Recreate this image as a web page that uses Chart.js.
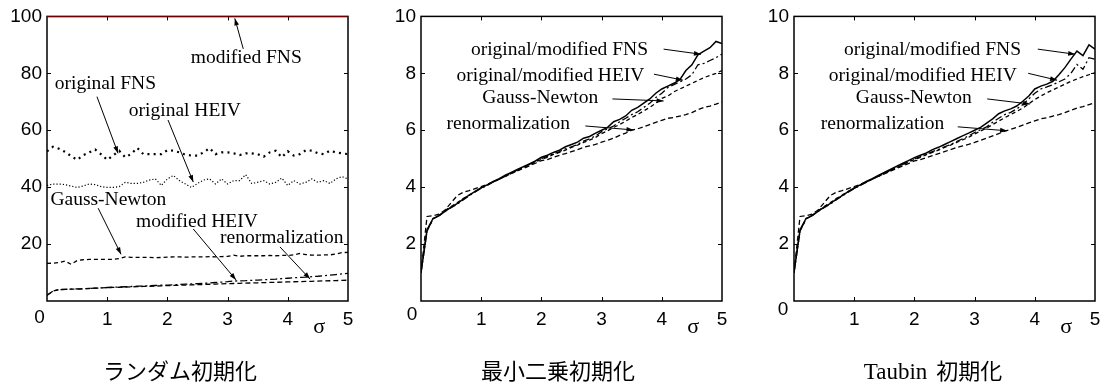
<!DOCTYPE html>
<html><head><meta charset="utf-8">
<script src="https://cdn.jsdelivr.net/npm/chart.js@4.4.0/dist/chart.umd.min.js"></script>
<style>
html,body{margin:0;padding:0;background:#fff;}
#wrap{position:relative;width:1106px;height:389px;overflow:hidden;background:#fff;}
canvas{position:absolute;top:0;}
</style></head><body>
<div id="wrap">
<canvas id="c1" width="370" height="389" style="left:0px"></canvas>
<canvas id="c2" width="370" height="389" style="left:374px"></canvas>
<canvas id="c3" width="370" height="389" style="left:747px"></canvas>
</div>
<script>
// ---------- data ----------
const sigma = [0,0.1,0.2,0.3,0.4,0.5,0.6,0.7,0.8,0.9,1.0,1.1,1.2,1.3,1.4,1.5,1.6,1.7,1.8,1.9,2.0,2.1,2.2,2.3,2.4,2.5,2.6,2.7,2.8,2.9,3.0,3.1,3.2,3.3,3.4,3.5,3.6,3.7,3.8,3.9,4.0,4.1,4.2,4.3,4.4,4.5,4.6,4.7,4.8,4.9,5.0];

// Panel 1 : random initialization
const p1_modFNS = [100,100,100,100,100,100,100,100,100,100,100,100,100,100,100,100,100,100,100,100,100,100,100,100,100,100,100,100,100,100,100,100,100,100,100,100,100,100,100,100,100,100,100,100,100,100,100,100,100,100,100];
const p1_origFNS = [52.6,54.2,53.5,52.4,50.9,49.6,51.2,52.2,53.2,51.5,49.6,51.2,52.8,50.5,51.7,53.8,51.6,51.6,51.6,51.6,53.0,52.8,52.2,51.4,51.1,51.1,52.2,53.7,51.6,52.2,52.2,51.9,51.3,51.9,51.9,51.6,50.7,52.2,52.8,50.5,52.6,51.1,51.6,53.0,52.8,51.9,51.6,52.8,52.2,51.9,51.6];
const p1_origHEIV = [40.6,41.1,41.1,40.9,40.4,39.9,40.4,41.1,40.9,40.2,39.9,39.9,40.2,41.7,41.3,41.3,41.7,42.5,42.9,40.6,42.9,44.1,42.3,41.1,39.9,41.3,42.5,42.9,41.1,42.9,41.1,42.3,42.3,44.4,41.3,41.7,42.3,41.1,41.7,43.2,40.6,42.3,41.1,41.7,42.9,41.7,42.3,41.3,42.9,43.7,42.9];
const p1_GN = [13.2,13.3,13.5,14.0,12.9,14.2,14.5,14.6,14.6,14.6,14.6,14.6,14.9,15.5,15.3,15.3,15.3,15.3,15.2,15.3,15.4,15.5,15.5,15.4,15.5,15.5,15.5,15.6,15.5,15.6,15.7,16.1,15.7,15.9,15.9,15.9,15.9,16.0,15.9,16.0,16.0,16.2,16.7,16.3,16.1,16.1,16.2,16.2,16.5,17.0,17.1];
const p1_modHEIV = [2.0,3.5,4.0,4.1,4.15,4.25,4.3,4.4,4.5,4.6,4.75,4.85,4.9,5.0,5.1,5.2,5.25,5.35,5.45,5.55,5.6,5.7,5.8,5.9,6.0,6.1,6.2,6.35,6.5,6.65,6.8,7.0,7.1,7.15,7.25,7.35,7.45,7.6,7.7,7.85,8.0,8.15,8.3,8.4,8.55,8.7,8.9,9.1,9.3,9.5,9.7];
const p1_renorm = [2.0,3.5,4.0,4.1,4.15,4.2,4.3,4.4,4.5,4.6,4.7,4.77,4.84,4.9,4.98,5.05,5.12,5.18,5.25,5.32,5.4,5.47,5.53,5.6,5.67,5.74,5.8,5.88,5.95,6.02,6.1,6.15,6.22,6.28,6.33,6.4,6.45,6.52,6.58,6.63,6.7,6.76,6.82,6.88,6.93,7.0,7.05,7.12,7.18,7.24,7.3];

// Panel 2 : least-squares initialization
const p2_FNS = [1.0,2.5,2.9,3.0,3.15,3.3,3.42,3.58,3.72,3.85,3.98,4.08,4.2,4.3,4.42,4.52,4.62,4.72,4.82,4.92,5.05,5.12,5.22,5.3,5.42,5.5,5.58,5.72,5.78,5.9,6.0,6.1,6.3,6.38,6.5,6.7,6.8,6.95,7.1,7.3,7.45,7.55,7.65,7.78,8.1,8.3,8.65,8.78,8.9,9.12,9.05];
const p2_HEIV = [1.0,2.45,2.9,3.0,3.15,3.28,3.4,3.55,3.7,3.83,3.96,4.06,4.18,4.28,4.4,4.5,4.6,4.7,4.8,4.9,5.0,5.08,5.17,5.25,5.35,5.42,5.5,5.62,5.7,5.8,5.95,6.05,6.15,6.3,6.42,6.55,6.65,6.8,6.95,7.15,7.3,7.5,7.6,7.7,7.8,7.95,8.3,8.35,8.45,8.55,8.68];
const p2_GN = [1.0,2.45,2.88,3.0,3.18,3.32,3.45,3.6,3.72,3.85,3.97,4.08,4.18,4.28,4.38,4.48,4.58,4.68,4.78,4.88,4.98,5.05,5.15,5.22,5.3,5.4,5.48,5.57,5.65,5.75,5.88,5.98,6.1,6.2,6.32,6.45,6.55,6.68,6.8,6.95,7.12,7.2,7.35,7.45,7.55,7.65,7.75,7.85,7.92,8.0,8.1];
const p2_renorm = [1.0,2.97,3.0,3.05,3.2,3.45,3.7,3.82,3.88,3.95,4.02,4.1,4.18,4.28,4.38,4.48,4.57,4.66,4.75,4.84,4.93,4.97,5.05,5.12,5.18,5.25,5.32,5.4,5.45,5.5,5.58,5.65,5.72,5.82,5.9,6.0,6.05,6.12,6.2,6.28,6.35,6.42,6.45,6.5,6.55,6.62,6.72,6.8,6.85,6.92,7.0];

// Panel 3 : Taubin initialization
const p3_FNS = [1.0,2.5,2.9,3.0,3.15,3.3,3.42,3.57,3.7,3.84,3.97,4.08,4.2,4.3,4.41,4.52,4.62,4.73,4.83,4.93,5.04,5.12,5.2,5.32,5.4,5.5,5.6,5.7,5.8,5.9,6.0,6.1,6.25,6.4,6.58,6.68,6.75,6.85,7.02,7.2,7.45,7.55,7.62,7.72,7.95,8.2,8.5,8.78,8.62,9.0,8.85];
const p3_HEIV = [1.0,2.45,2.9,3.0,3.15,3.28,3.4,3.55,3.69,3.82,3.95,4.06,4.17,4.28,4.39,4.49,4.59,4.69,4.79,4.89,4.99,5.07,5.15,5.25,5.33,5.42,5.5,5.6,5.7,5.8,5.92,6.02,6.12,6.28,6.42,6.55,6.63,6.75,6.9,7.1,7.3,7.45,7.52,7.6,7.7,7.8,8.0,8.31,8.14,8.55,8.49];
const p3_GN = [1.0,2.45,2.88,3.0,3.17,3.32,3.45,3.6,3.72,3.85,3.96,4.07,4.18,4.28,4.38,4.48,4.58,4.68,4.78,4.88,4.97,5.05,5.14,5.22,5.3,5.4,5.48,5.57,5.66,5.75,5.87,5.97,6.08,6.2,6.32,6.44,6.55,6.66,6.78,6.93,7.08,7.2,7.32,7.42,7.52,7.62,7.72,7.8,7.88,7.95,8.02];
const p3_renorm = [1.0,2.97,3.0,3.05,3.2,3.45,3.7,3.82,3.88,3.95,4.02,4.1,4.18,4.28,4.38,4.47,4.56,4.65,4.74,4.83,4.92,4.97,5.04,5.11,5.18,5.25,5.32,5.39,5.45,5.5,5.57,5.65,5.72,5.8,5.88,5.97,6.03,6.1,6.18,6.26,6.33,6.4,6.44,6.5,6.55,6.62,6.7,6.78,6.83,6.9,6.97];

// tick settings
const p1_yTicks = {max: 100, step: 20};
const p23_yTicks = {max: 10, step: 2};
const xTicks = {max: 5, step: 1};

// annotation labels (text anchor and arrow in data units)
const p1_notes = [
  {text:'modified FNS',   t:[3.31,83.7], a:[3.26,88.6], b:[3.12,99.3]},
  {text:'original FNS',   t:[0.97,74.4], a:[0.83,71.8], b:[1.18,51.9]},
  {text:'original HEIV',  t:[2.29,65.0], a:[2.01,63.6], b:[2.43,41.8]},
  {text:'Gauss-Newton',   t:[1.02,33.9], a:[0.85,32.6], b:[1.23,16.4]},
  {text:'modified HEIV',  t:[2.49,26.0], a:[2.43,25.3], b:[3.14,7.4]},
  {text:'renormalization',t:[3.90,20.4], a:[3.87,19.0], b:[4.37,7.7]}
];
const p2_notes = [
  {text:'original/modified FNS',  t:[2.30,8.64], a:[4.03,8.85], b:[4.65,8.67]},
  {text:'original/modified HEIV', t:[2.15,7.73], a:[3.87,7.97], b:[4.35,7.76]},
  {text:'Gauss-Newton',           t:[1.98,6.96], a:[3.18,7.10], b:[4.03,7.03]},
  {text:'renormalization',        t:[1.45,6.05], a:[2.73,6.15], b:[3.53,6.01]}
];
const p3_notes = [
  {text:'original/modified FNS',  t:[2.30,8.64], a:[4.05,8.85], b:[4.67,8.67]},
  {text:'original/modified HEIV', t:[2.14,7.73], a:[3.89,8.00], b:[4.37,7.76]},
  {text:'Gauss-Newton',           t:[1.99,6.96], a:[3.21,7.10], b:[3.92,6.92]},
  {text:'renormalization',        t:[1.47,6.05], a:[2.72,6.12], b:[3.54,5.98]}
];

const titles = [
  [{text:'ランダム初期化', font:'22px "Noto Sans CJK JP"', base:'middle', y:371}],
  [{text:'最小二乗初期化', font:'22px "Noto Sans CJK JP"', base:'middle', y:371}],
  [{text:'Taubin', font:'23px "Liberation Serif", serif', base:'alphabetic', y:379, gap:9},
   {text:'初期化', font:'22px "Noto Sans CJK JP"', base:'middle', y:371}]
];
const titleCenters = [180, 184, 186];
const zeroPos = [[39.5,318],[38,315],[36,310]];

// ---------- drawing ----------
const TICK_FONT = {family:'"Liberation Sans", Arial, sans-serif', size:19};
const NOTE_FONT = '19.5px "Liberation Serif", "Times New Roman", serif';

function ds(data, style, color){
  return Object.assign({data, borderColor: color || '#000', backgroundColor:'#000', pointRadius:0,
    borderWidth:1.3, tension:0, fill:false, borderCapStyle:'butt'}, style);
}
const SOLID = {borderWidth:1.5, borderDash:[]};
const DASHDOT = {borderWidth:1.3, borderDash:[7,3,2,3]};
const DASH_GN = {borderWidth:1.3, borderDash:[4,3]};
const DASH_RN = {borderWidth:1.3, borderDash:[5,3]};
const DOT_BIG = {borderWidth:2.2, borderDash:[2,4.2]};
const DOT_SMALL = {borderWidth:1.2, borderDash:[1.2,2]};

function arrow(ctx,x1,y1,x2,y2){
  ctx.beginPath(); ctx.moveTo(x1,y1); ctx.lineTo(x2,y2); ctx.stroke();
  const ang=Math.atan2(y2-y1,x2-x1), L=7, W=2.4;
  ctx.beginPath(); ctx.moveTo(x2,y2);
  ctx.lineTo(x2-L*Math.cos(ang)+W*Math.sin(ang), y2-L*Math.sin(ang)-W*Math.cos(ang));
  ctx.lineTo(x2-L*Math.cos(ang)-W*Math.sin(ang), y2-L*Math.sin(ang)+W*Math.cos(ang));
  ctx.closePath(); ctx.fill();
}

function deco(idx, notes){
  return {
    id:'deco'+idx,
    beforeDatasetsDraw(chart){
      const {ctx, chartArea:a, scales:{x,y}} = chart;
      ctx.save();
      ctx.strokeStyle='#000'; ctx.lineWidth=1.5;
      ctx.strokeRect(a.left, a.top, a.right-a.left, a.bottom-a.top);
      ctx.lineWidth=1; const tl=4;
      ctx.beginPath();
      x.ticks.forEach(t=>{ if(t.value<=x.min||t.value>=x.max) return;
        const px=Math.round(x.getPixelForValue(t.value))+0.5;
        ctx.moveTo(px,a.bottom); ctx.lineTo(px,a.bottom-tl);
        ctx.moveTo(px,a.top); ctx.lineTo(px,a.top+tl); });
      y.ticks.forEach(t=>{ if(t.value<=y.min||t.value>=y.max) return;
        const py=Math.round(y.getPixelForValue(t.value))+0.5;
        ctx.moveTo(a.left,py); ctx.lineTo(a.left+tl,py);
        ctx.moveTo(a.right,py); ctx.lineTo(a.right-tl,py); });
      ctx.stroke();
      ctx.restore();
    },
    afterDraw(chart){
      const {ctx, scales:{x,y}} = chart;
      ctx.save();
      ctx.fillStyle='#000'; ctx.strokeStyle='#000'; ctx.lineWidth=1;
      // annotations
      ctx.font=NOTE_FONT; ctx.textAlign='center'; ctx.textBaseline='alphabetic';
      notes.forEach(n=>{
        ctx.fillText(n.text, x.getPixelForValue(n.t[0]), y.getPixelForValue(n.t[1]));
        arrow(ctx, x.getPixelForValue(n.a[0]), y.getPixelForValue(n.a[1]),
                   x.getPixelForValue(n.b[0]), y.getPixelForValue(n.b[1]));
      });
      // sigma axis symbol
      ctx.font='22px "Liberation Serif", serif'; ctx.textBaseline='middle';
      ctx.fillText('σ', x.getPixelForValue(4.52), 327);
      // zero label
      ctx.font='19px "Liberation Sans", Arial, sans-serif';
      ctx.fillText('0', zeroPos[idx][0], zeroPos[idx][1]);
      // title
      const parts = titles[idx];
      let total=0; const widths=[];
      parts.forEach(p=>{ ctx.font=p.font; const w=ctx.measureText(p.text).width; widths.push(w); total+=w+(p.gap||0); });
      let cx = titleCenters[idx]-total/2;
      ctx.textAlign='left';
      parts.forEach((p,i)=>{ ctx.font=p.font; ctx.textBaseline=p.base; ctx.fillText(p.text,cx,p.y); cx+=widths[i]+(p.gap||0); });
      ctx.restore();
    }
  };
}

function makeChart(id, idx, datasets, yt, notes){
  return new Chart(document.getElementById(id), {
    type:'line',
    data:{labels:sigma, datasets},
    options:{
      responsive:false, animation:false, devicePixelRatio:1,
      layout:{padding:{top:15,right:22,left:0,bottom:0}},
      plugins:{legend:{display:false}, tooltip:{enabled:false}},
      scales:{
        x:{type:'linear', min:0, max:xTicks.max,
           grid:{display:false, drawTicks:false}, border:{display:false},
           ticks:{stepSize:xTicks.step, color:'#000', font:TICK_FONT, padding:7, maxRotation:0,
                  callback:v=> v===0 ? '' : String(v)},
           afterFit:s=>{ s.height = 88; }},
        y:{type:'linear', min:0, max:yt.max,
           grid:{display:false, drawTicks:false}, border:{display:false},
           ticks:{stepSize:yt.step, color:'#000', font:TICK_FONT, padding:5,
                  callback:v=> v===0 ? '' : String(v)},
           afterFit:s=>{ s.width = 47; }}
      }
    },
    plugins:[deco(idx, notes)]
  });
}

makeChart('c1', 0, [
  ds(p1_origFNS, DOT_BIG),
  ds(p1_origHEIV, DOT_SMALL),
  ds(p1_GN, DASH_GN),
  ds(p1_renorm, DASH_RN),
  ds(p1_modHEIV, DASHDOT),
  ds(p1_modFNS, {borderWidth:1.6, borderDash:[]}, '#e00000')
], p1_yTicks, p1_notes);

makeChart('c2', 1, [
  ds(p2_renorm, DASH_RN),
  ds(p2_GN, DASH_GN),
  ds(p2_HEIV, DASHDOT),
  ds(p2_FNS, SOLID)
], p23_yTicks, p2_notes);

makeChart('c3', 2, [
  ds(p3_renorm, DASH_RN),
  ds(p3_GN, DASH_GN),
  ds(p3_HEIV, DASHDOT),
  ds(p3_FNS, SOLID)
], p23_yTicks, p3_notes);
</script>
</body></html>
